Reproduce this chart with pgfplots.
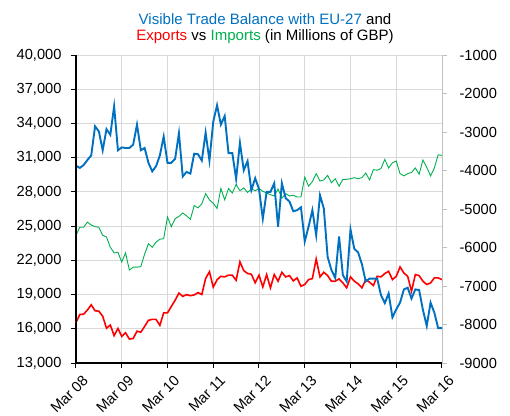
\documentclass[border=0pt]{standalone}
\usepackage{pgfplots}
\usepackage{pgfplotstable}
\pgfplotsset{compat=1.18}
\usepackage{fontspec}
\setmainfont{Liberation Sans}
\definecolor{tblue}{RGB}{0,112,192}
\definecolor{tgreen}{RGB}{0,176,80}
\definecolor{tred}{RGB}{255,0,0}
\definecolor{gridc}{RGB}{217,217,217}
\definecolor{raxis}{RGB}{191,191,191}

\pgfplotstableread{
m exp imp
0 16550 24200
1 17250 24900
2 17280 24900
3 17650 25350
4 18100 25100
5 17580 24950
6 17540 24900
7 17100 24200
8 16050 24050
9 16330 23150
10 15400 22650
11 16030 22700
12 15330 21850
13 15650 22650
14 15100 21150
15 15150 21400
16 15790 21400
17 15700 21450
18 16210 22550
19 16740 23450
20 16830 23150
21 16820 23600
22 16300 23850
23 17400 23900
24 17400 25800
25 17950 24950
26 18500 25650
27 19130 25850
28 18840 26150
29 18990 25900
30 18900 25600
31 18970 26800
32 19170 26600
33 19000 26950
34 20410 27850
35 21000 27300
36 19650 27000
37 20300 26550
38 20600 28300
39 20550 27300
40 20700 28300
41 20700 27900
42 20250 28650
43 21870 28100
44 21100 28350
45 20850 27950
46 20780 28250
47 20030 28100
48 20700 28300
49 19670 28050
50 20750 27900
51 19590 27750
52 20750 27650
53 20170 28250
54 20950 27450
55 20550 27850
56 20660 27650
57 20200 27700
58 20460 27550
59 19730 27550
60 19880 29300
61 20310 28500
62 20400 28900
63 22120 29600
64 20550 28950
65 20950 29050
66 20660 29450
67 20170 28800
68 20170 29150
69 20370 28500
70 20020 29100
71 19590 29100
72 20550 29150
73 20170 29250
74 19940 29150
75 19590 29250
76 20310 29650
77 20080 29050
78 19790 29950
79 20600 29900
80 20550 30050
81 20840 30850
82 21040 30100
83 20310 30550
84 20600 30700
85 21420 29600
86 20890 29400
87 20600 29600
88 19290 29700
89 20750 30100
90 20660 29550
91 20170 30800
92 19880 30150
93 20020 29400
94 20460 30100
95 20460 31250
96 20310 31200
}\tradetable

\pgfplotstableread{
m bal
0 -3874
1 -3933
2 -3859
3 -3726
4 -3607
5 -2852
6 -2985
7 -3474
8 -2926
9 -3074
10 -2333
11 -3474
12 -3400
13 -3415
14 -3415
15 -3326
16 -2807
17 -3474
18 -3415
19 -3800
20 -4022
21 -3889
22 -3607
23 -3119
24 -3800
25 -3800
26 -3696
27 -3030
28 -4156
29 -4037
30 -4081
31 -3563
32 -3578
33 -3741
34 -3015
35 -3741
36 -2733
37 -2304
38 -2807
39 -2585
40 -3548
41 -3548
42 -4215
43 -3281
44 -3993
45 -3756
46 -4511
47 -4200
48 -4481
49 -5252
50 -4556
51 -4556
52 -4333
53 -5459
54 -4333
55 -4719
56 -4807
57 -5059
58 -5030
59 -4956
60 -5844
61 -5459
62 -5030
63 -5681
64 -4644
65 -4985
66 -6244
67 -6585
68 -6793
69 -5711
70 -6719
71 -6881
72 -5533
73 -6037
74 -6126
75 -6437
76 -6881
77 -6807
78 -6807
79 -6807
80 -7237
81 -7444
82 -7193
83 -7815
84 -7607
85 -7430
86 -7089
87 -7044
88 -7326
89 -7089
90 -7104
91 -7622
92 -8037
93 -7430
94 -7696
95 -8096
96 -8096
}\baltable

\begin{document}
\begin{tikzpicture}
\begin{axis}[
  scale only axis, width=366bp, height=308bp,
  xmin=0, xmax=96, ymin=13000, ymax=40000,
  xtick={0,12,...,96},
  xticklabels={Mar 08,Mar 09,Mar 10,Mar 11,Mar 12,Mar 13,Mar 14,Mar 15,Mar 16},
  ytick={13000,16000,...,40000},
  scaled y ticks=false,
  axis x line*=bottom, axis y line*=left,
  axis line style={black, line width=1.5bp, -},
  tick align=outside, major tick length=5bp,
  tick style={black, line width=1bp},
  grid=major, major grid style={gridc, line width=0.8bp},
  /pgf/number format/assume math mode=true,
  /pgf/number format/1000 sep={,},
  /pgf/number format/fixed,
  yticklabel style={font=\fontsize{14.7}{14.7}\selectfont, xshift=-6bp},
  xticklabel style={font=\fontsize{14.7}{14.7}\selectfont, rotate=45, anchor=north east, xshift=3bp, yshift=-5bp},
  clip=false,
]
\addplot[tred, line width=1.6bp] table[x=m,y=exp]{\tradetable};
\addplot[tgreen, line width=0.9bp] table[x=m,y=imp]{\tradetable};
\coordinate (bl) at (rel axis cs:0,0);
\coordinate (tr) at (rel axis cs:1,1);
\node[font=\fontsize{15.1}{15.1}\selectfont] at (rel axis cs:0.5,1) [xshift=6bp,yshift=36bp]
  {\textcolor{tblue}{Visible Trade Balance with EU-27} and};
\node[font=\fontsize{15.1}{15.1}\selectfont] at (rel axis cs:0.5,1) [xshift=6bp,yshift=18bp]
  {\textcolor{tred}{Exports} vs \textcolor{tgreen}{Imports} (in Millions of GBP)};
\end{axis}
\begin{axis}[
  scale only axis, width=366bp, height=308bp,
  xmin=0, xmax=96, ymin=-9000, ymax=-1000,
  ytick={-9000,-8000,...,-1000},
  scaled y ticks=false,
  axis x line=none, axis y line*=right,
  axis line style={raxis, line width=0.8bp, -},
  tick align=outside, major tick length=5bp,
  tick style={raxis, line width=0.8bp},
  /pgf/number format/assume math mode=true,
  /pgf/number format/1000 sep={},
  yticklabel style={font=\fontsize{14.7}{14.7}\selectfont, anchor=west, xshift=9bp},
]
\addplot[tblue, line width=1.9bp] table[x=m,y=bal]{\baltable};
\draw[black, line width=1.5bp] (rel axis cs:0,1) -- (rel axis cs:0,0) -- (rel axis cs:1,0);
\end{axis}
\pgfresetboundingbox
\path[use as bounding box] ([xshift=-76bp,yshift=-53bp]bl) rectangle ([xshift=68bp,yshift=55bp]tr);
\end{tikzpicture}
\end{document}
